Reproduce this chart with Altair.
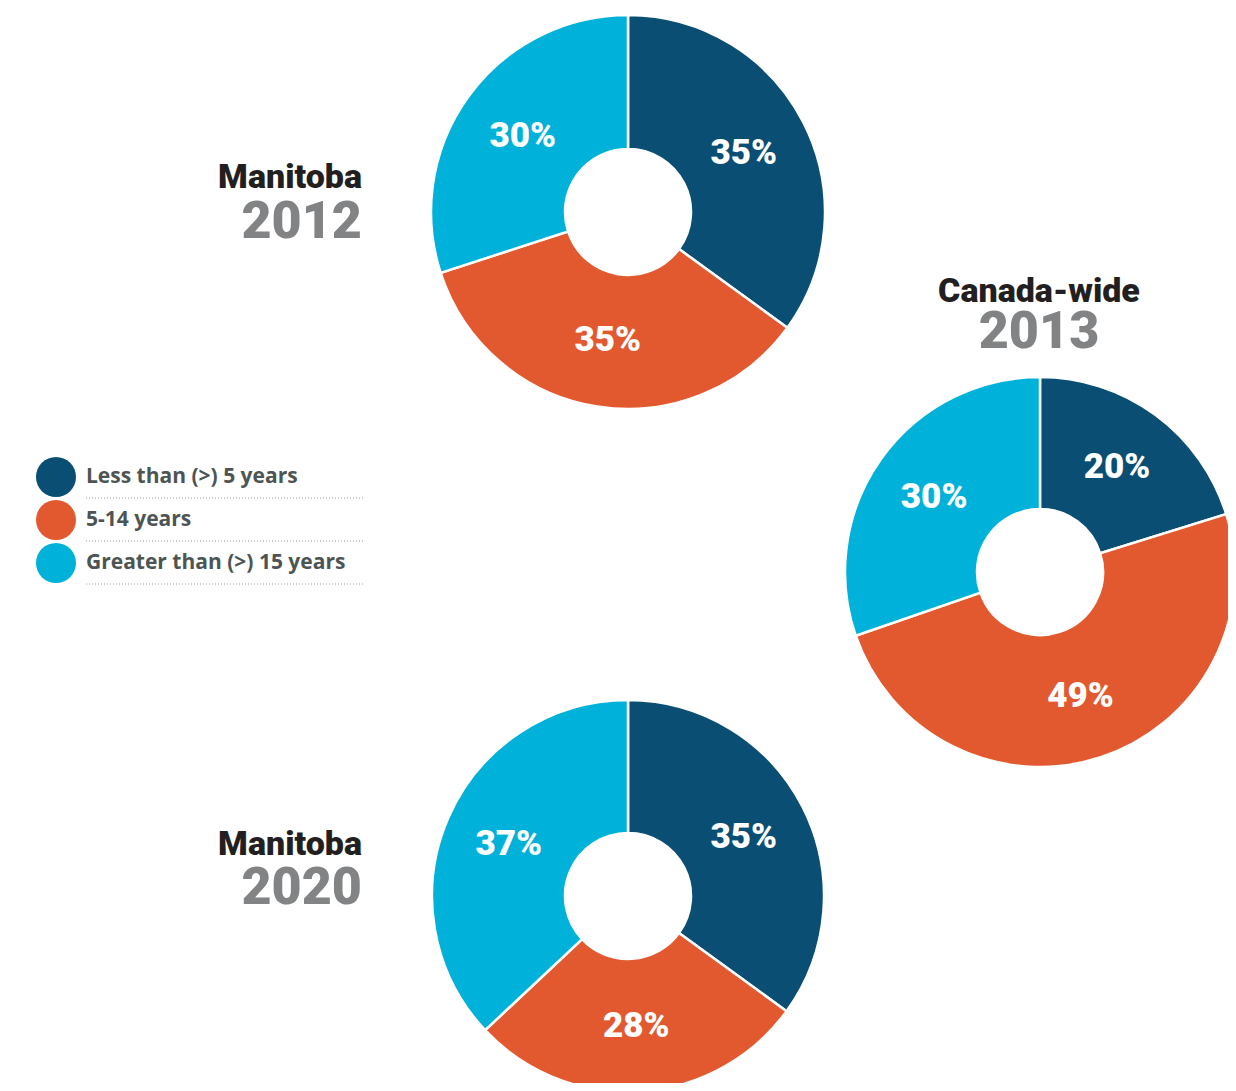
import altair as alt
import pandas as pd

categories = ["Less than (>) 5 years", "5-14 years", "Greater than (>) 15 years"]
colors = ["#0a4e74", "#e3592f", "#00b2d9"]
mb2012 = [35, 35, 30]
cw2013 = [20, 49, 30]
mb2020 = [35, 28, 37]
title_names = ["Manitoba", "Canada-wide", "Manitoba"]
title_years = ["2012", "2013", "2020"]

OFF = 8
color_scale = alt.Scale(domain=categories, range=colors)
HEAVY = "Roboto"


def donut(values, cx, cy, r_out):
    df = pd.DataFrame({"category": categories, "value": values, "idx": [0, 1, 2]})
    base = alt.Chart(df).encode(
        theta=alt.Theta("value:Q", stack=True),
        order=alt.Order("idx:Q"),
        x=alt.value(cx - OFF),
        y=alt.value(cy - OFF),
    )
    arc = base.mark_arc(outerRadius=r_out, innerRadius=63, stroke="white", strokeWidth=2.5).encode(
        color=alt.Color("category:N", scale=color_scale, legend=None)
    )
    text = (
        base.transform_calculate(label="datum.value + '%'")
        .mark_text(radius=130, font=HEAVY, fontWeight=900, fontSize=35, color="white")
        .encode(text="label:N", detail="category:N")
    )
    return alt.layer(arc, text)


def title(i, x, y_name, y_year, align):
    df = pd.DataFrame({"name": [title_names[i]], "year": [title_years[i]]})
    b = alt.Chart(df)
    n = b.mark_text(align=align, baseline="alphabetic", font=HEAVY, fontWeight=900,
                    fontSize=34, color="#231f20").encode(
        text="name:N", x=alt.value(x - OFF), y=alt.value(y_name - OFF))
    yr = b.mark_text(align=align, baseline="alphabetic", font=HEAVY, fontWeight=900,
                     fontSize=52, color="#818384").encode(
        text="year:N", x=alt.value(x - OFF), y=alt.value(y_year - OFF))
    return alt.layer(n, yr)


leg_df = pd.DataFrame({"category": categories})
yscale = alt.Scale(type="point", range=[477 - OFF, 563 - OFF], padding=0)
leg_base = alt.Chart(leg_df).encode(
    y=alt.Y("category:N", sort=categories, scale=yscale, axis=None)
)
leg_circ = leg_base.mark_circle(size=1600, opacity=1).encode(
    x=alt.value(56 - OFF),
    color=alt.Color("category:N", scale=color_scale, legend=None),
)
leg_text = leg_base.mark_text(align="left", baseline="middle", font="Open Sans", fontWeight="bold",
                              fontSize=21, color="#4d5554").encode(
    text="category:N", x=alt.value(86 - OFF))
leg_rule = leg_base.mark_rule(yOffset=21, strokeDash=[1, 2], color="#9a9a9a", strokeWidth=1).encode(
    x=alt.value(86 - OFF), x2=alt.value(365 - OFF))

chart = alt.layer(
    donut(mb2012, 628, 212, 197),
    donut(cw2013, 1040, 572, 195),
    donut(mb2020, 628, 896, 196),
    title(0, 362, 188, 238, "right"),
    title(1, 1039, 302, 348, "center"),
    title(2, 362, 855, 904, "right"),
    leg_circ, leg_text, leg_rule,
).resolve_scale(theta="independent").properties(
    width=1220, height=1075, padding=0, autosize=alt.AutoSizeParams(type="none")
).configure_view(stroke=None)

chart.save("out.html", embed_options={"renderer": "svg", "actions": False})
